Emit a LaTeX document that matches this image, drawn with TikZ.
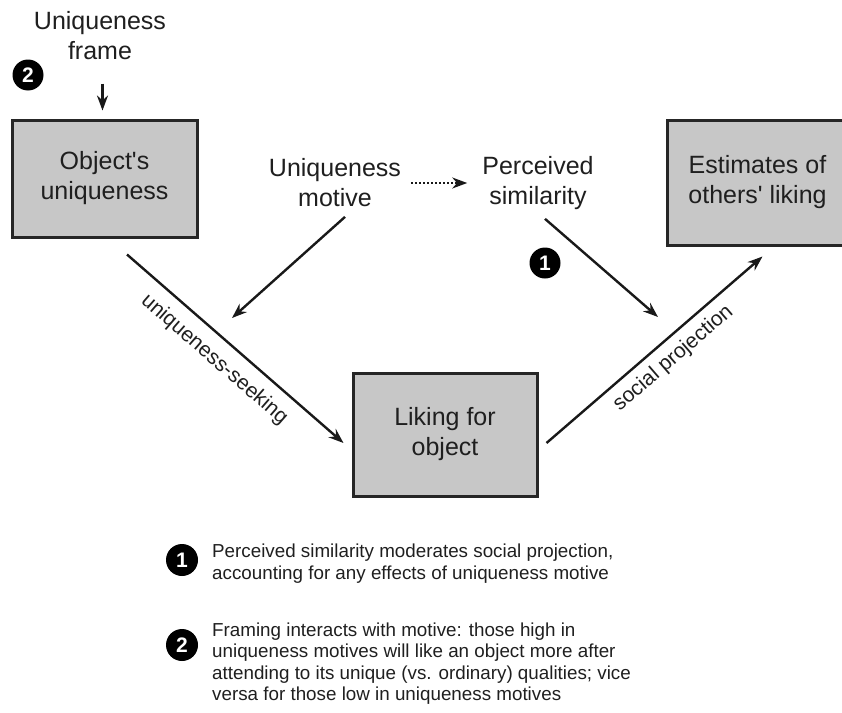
\documentclass[tikz,border=0pt]{standalone}
\usepackage{fontspec}
\setmainfont{Liberation Sans}
\usetikzlibrary{arrows.meta,positioning}

\begin{document}
\begin{tikzpicture}[x=1pt, y=-1pt,
  every node/.style={font=\fontsize{25}{30}\selectfont, align=center, text=black!88, inner sep=2pt},
  box/.style={draw=black!85, line width=3pt, fill=black!22},
  arr/.style={-{Stealth[length=15pt,width=11pt]}, line width=2.4pt, draw=black!90},
  badge/.style={circle, fill=black, text=white, inner sep=0pt, minimum size=31pt,
    font=\fontsize{21}{21}\selectfont\bfseries},
  lbl/.style={font=\fontsize{21}{21}\selectfont, sloped},
  note/.style={font=\fontsize{18.8}{21.5}\selectfont, align=left, anchor=west}]
\useasboundingbox (0,0) rectangle (842,712);

% boxes
\node[box, minimum width=185pt, minimum height=117pt] (objuniq) at (104.5,178.5) {Object\textquotesingle s\\uniqueness};
\node[box, minimum width=181pt, minimum height=125pt] (others) at (757.5,182.5) {Estimates of\\others\textquotesingle\ liking};
\node[box, minimum width=184pt, minimum height=123pt] (liking) at (445,434.5) {Liking for\\object};

% free text
\node (frame) at (100,36) {Uniqueness\\frame};
\node (motive) at (335,183) {Uniqueness\\motive};
\node (simil) at (538,183) {Perceived\\similarity};

% badges
\node[badge] (twotop) at (28,75) {2};
\node[badge] (onemid) at (545,263) {1};

\coordinate (seekpt) at (232,318);
\coordinate (projpt) at (658,317);

\draw[arr] ([shift={(-2,-35)}]objuniq.north) -- ([shift={(-2,-8)}]objuniq.north);
\draw[arr] ([shift={(22.5,16)}]objuniq.south) -- node[lbl, below=9pt, pos=0.47] {uniqueness-seeking} ([shift={(-8,8.5)}]liking.west);
\draw[arr] ([shift={(8,8.5)}]liking.east) -- node[lbl, below=6pt, pos=0.53] {social projection} ([shift={(5,10)}]others.south);
\draw[arr] ([shift={(10,7.5)}]motive.south) -- (seekpt);
\draw[arr] ([shift={(7,7)}]simil.south) -- (projpt);
\draw[arr, dash pattern=on 2pt off 2pt, line width=2pt, shorten <=8pt, shorten >=13pt] (motive.east) -- (simil.west);

% legend
\node[badge, minimum size=32pt] (onekey) at (182,560) {1};
\node[badge, minimum size=32pt] (twokey) at (182,645) {2};
\node[note] (onetext) at (210,563.5) {Perceived similarity moderates social projection,\\accounting for any effects of uniqueness motive};
\node[note] (twotext) at (210,663.5) {Framing interacts with motive: those high in\\uniqueness motives will like an object more after\\attending to its unique (vs. ordinary) qualities; vice\\versa for those low in uniqueness motives};
\end{tikzpicture}
\end{document}
